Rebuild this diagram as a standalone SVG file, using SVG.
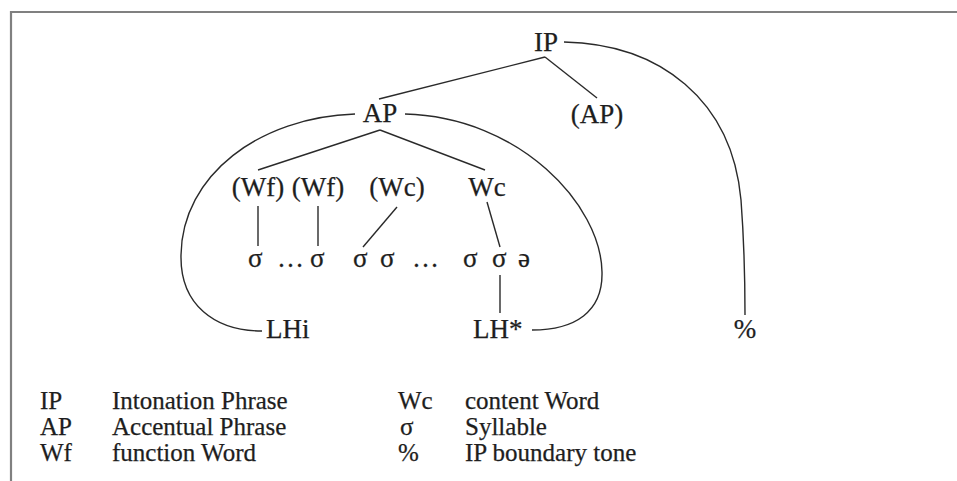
<svg xmlns="http://www.w3.org/2000/svg" width="957" height="481" viewBox="0 0 957 481" font-family="'Liberation Serif', 'Times New Roman', Times, 'DejaVu Serif', serif">
  <style>
    .t { font-size: 27px; fill: #1e1e1e; stroke: #1e1e1e; stroke-width: 0.25; }
    .c { text-anchor: middle; }
    .lg { font-size: 25px; fill: #1e1e1e; stroke: #1e1e1e; stroke-width: 0.25; }
    .ln { fill: none; stroke: #2a2a2a; stroke-width: 1.4; }
    .frame { fill: none; stroke: #808080; stroke-width: 2.2; }
  </style>
  <rect width="957" height="481" fill="#fff"/>
  <!-- page frame: top and left edges only -->
  <path class="frame" d="M11,481 L11,12 L957,12"/>

  <g id="connectors">
    <!-- tree branches -->
    <path class="ln" d="M545,57 L379,99"/>
    <path class="ln" d="M545,57 L597,98"/>
    <path class="ln" d="M380,130 L258,170"/>
    <path class="ln" d="M380,130 L485,170"/>
    <path class="ln" d="M258,206 L258,246"/>
    <path class="ln" d="M318,206 L318,246"/>
    <path class="ln" d="M397,207 L363,247"/>
    <path class="ln" d="M487,202 L500,247"/>
    <path class="ln" d="M500,275 L500,313"/>
    <!-- tone association arcs -->
    <path class="ln" d="M355,114 C 260,117 182,175 181,255 C 180,305 215,331 262,331"/>
    <path class="ln" d="M405,114 C 520,117 601,205 602,272 C 603,312 575,330 532,330"/>
    <path class="ln" d="M564,42 C 660,44 732,100 741,200 C 744,240 745,280 745,315"/>
  </g>

  <g id="node-IP"><text class="t c" x="546" y="51">IP</text></g>
  <g id="node-AP"><text class="t c" x="380" y="122">AP</text></g>
  <g id="node-AP-opt"><text class="t c" x="597" y="123">(AP)</text></g>
  <g id="node-Wf1"><text class="t c" x="258" y="196">(Wf)</text></g>
  <g id="node-Wf2"><text class="t c" x="318" y="196">(Wf)</text></g>
  <g id="node-Wc-opt"><text class="t c" x="397" y="196">(Wc)</text></g>
  <g id="node-Wc"><text class="t c" x="487" y="196">Wc</text></g>

  <g id="node-syl-1"><text class="t" y="267"><tspan x="248">σ</tspan><tspan x="277">…</tspan><tspan x="310">σ</tspan></text></g>
  <g id="node-syl-2"><text class="t" y="267"><tspan x="353">σ</tspan><tspan x="380">σ</tspan><tspan x="412">…</tspan></text></g>
  <g id="node-syl-3"><text class="t" y="267"><tspan x="463">σ</tspan><tspan x="492">σ</tspan><tspan x="518">ə</tspan></text></g>

  <g id="node-LHi"><text class="t" x="266" y="338">LHi</text></g>
  <g id="node-LHstar"><text class="t" x="473" y="338">LH*</text></g>
  <g id="node-pct"><text class="t c" x="745" y="338">%</text></g>

  <g id="legend">
    <text class="lg" x="40" y="409">IP</text>
    <text class="lg" x="112" y="409">Intonation Phrase</text>
    <text class="lg" x="40" y="435">AP</text>
    <text class="lg" x="112" y="435">Accentual Phrase</text>
    <text class="lg" x="40" y="461">Wf</text>
    <text class="lg" x="112" y="461">function Word</text>
    <text class="lg" x="398" y="409">Wc</text>
    <text class="lg" x="465" y="409">content Word</text>
    <text class="lg" x="400" y="435">σ</text>
    <text class="lg" x="465" y="435">Syllable</text>
    <text class="lg" x="398" y="461">%</text>
    <text class="lg" x="465" y="461">IP boundary tone</text>
  </g>
</svg>
